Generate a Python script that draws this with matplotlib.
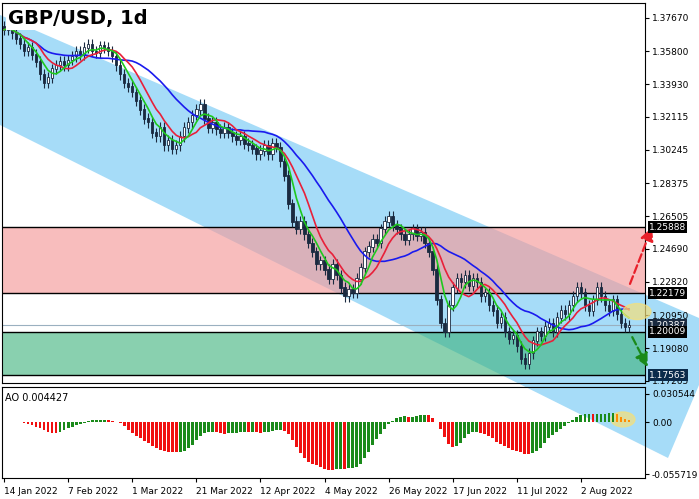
import matplotlib
matplotlib.use("Agg")
import matplotlib.pyplot as plt
from matplotlib.patches import Polygon, Ellipse
import numpy as np
import pandas as pd

closes = [1.370,1.372,1.368,1.365,1.362,1.358,1.360,1.356,1.352,1.345,1.340,1.343,1.348,1.350,1.352,1.350,
          1.353,1.355,1.358,1.356,1.360,1.362,1.358,1.357,1.361,1.360,1.358,1.355,1.350,1.345,1.340,1.338,
          1.335,1.330,1.325,1.320,1.318,1.312,1.310,1.315,1.305,1.308,1.303,1.305,1.310,1.315,1.318,1.322,
          1.325,1.328,1.320,1.315,1.318,1.314,1.312,1.315,1.312,1.310,1.308,1.310,1.306,1.305,1.303,1.300,
          1.302,1.305,1.300,1.306,1.304,1.296,1.288,1.272,1.262,1.258,1.262,1.255,1.250,1.245,1.238,1.240,
          1.235,1.230,1.238,1.232,1.225,1.220,1.224,1.222,1.230,1.236,1.245,1.248,1.252,1.250,1.258,1.262,
          1.265,1.260,1.258,1.255,1.252,1.255,1.258,1.254,1.256,1.250,1.245,1.235,1.218,1.205,1.200,1.215,
          1.225,1.230,1.228,1.232,1.226,1.230,1.228,1.220,1.222,1.215,1.212,1.205,1.208,1.200,1.196,1.198,
          1.192,1.185,1.182,1.188,1.195,1.200,1.198,1.203,1.205,1.200,1.208,1.212,1.210,1.215,1.220,1.225,
          1.222,1.215,1.212,1.218,1.225,1.220,1.215,1.212,1.218,1.210,1.205,1.203,1.2039]
tick_labels = ["14 Jan 2022","7 Feb 2022","1 Mar 2022","21 Mar 2022","12 Apr 2022","4 May 2022",
               "26 May 2022","17 Jun 2022","11 Jul 2022","2 Aug 2022"]
price_ticks = [1.37670,1.35800,1.33930,1.32115,1.30245,1.28375,1.26505,1.24690,1.22820,1.20950,1.19080,1.17265]
levels = [1.25888, 1.22179, 1.20009, 1.17563]
current = 1.20387
ao_value = 0.004427

W, H = 699, 499
fig = plt.figure(figsize=(W/100, H/100), dpi=100)
fig.patch.set_facecolor("white")

def fx(px): return px / W
def fy(py): return 1 - py / H

ax = fig.add_axes([fx(2), fy(383), fx(643), (383-3)/H])
ax2 = fig.add_axes([fx(2), fy(478), fx(643), (478-387)/H])
for a in (ax, ax2):
    a.set_facecolor("none")

pts = [(0,15),(699,318),(699,385),(668,458),(0,125)]
fig.patches.append(Polygon([(fx(x), fy(y)) for x, y in pts], closed=True, transform=fig.transFigure,
                           facecolor="#a6dcf8", edgecolor="none", zorder=-5))

c = np.array(closes)
n = len(c)
o = np.concatenate([[c[0]+0.002], c[:-1]])
hi = np.maximum(o, c) + 0.003
lo = np.minimum(o, c) - 0.003
idx = np.arange(n)

ax.axhspan(levels[1], levels[0], color="#f59a9a", alpha=0.65, zorder=1, lw=0)
ax.axhspan(levels[3], levels[2], color="#3bb27a", alpha=0.6, zorder=1, lw=0)
for lv in levels:
    ax.axhline(lv, color="black", lw=1, zorder=2)
ax.axhline(current, color="#9ab0c0", lw=0.8, zorder=2)

for i in range(n):
    ax.vlines(i, lo[i], hi[i], color="#1a2a40", lw=0.8, zorder=3)
    bull = c[i] >= o[i]
    ax.bar(i, abs(c[i]-o[i]) + 0.0003, bottom=min(o[i], c[i]), width=0.6,
           color="white" if bull else "#1a2a40", edgecolor="#1a2a40", lw=0.6, zorder=4)

s = pd.Series(c)
ax.plot(idx, s.rolling(21, min_periods=1).mean(), color="#1a1aee", lw=1.2, zorder=5)
ax.plot(idx, s.rolling(9, min_periods=1).mean(), color="#e8203a", lw=1.2, zorder=5)
ax.plot(idx, s.rolling(5, min_periods=1).mean(), color="#1ec81e", lw=1.2, zorder=5)

ax.annotate("", xy=(162, 1.2604), xytext=(156, 1.2256), annotation_clip=False,
            arrowprops=dict(arrowstyle="-|>,head_width=0.4,head_length=0.8", color="#e8202a", lw=1.6, ls="--"), zorder=6)
ax.annotate("", xy=(161, 1.1789), xytext=(156.5, 1.1985), annotation_clip=False,
            arrowprops=dict(arrowstyle="-|>,head_width=0.4,head_length=0.8", color="#1a8a1a", lw=1.6, ls="--"), zorder=6)
ax.add_patch(Ellipse((158, 1.2115), 7, 0.009, color="#f5e07a", alpha=0.7, zorder=6, clip_on=False))

ax.set_xlim(-0.5, 160)
ax.set_ylim(1.1713, 1.3851)
ax.yaxis.tick_right()
ax.set_yticks(price_ticks)
ax.set_yticklabels([f"{v:.5f}" for v in price_ticks], fontsize=6.5)
ax.set_xticks([])
ax.tick_params(axis="y", length=3, pad=2)
ax.text(0.01, 0.985, "GBP/USD, 1d", transform=ax.transAxes, fontsize=14, fontweight="bold", va="top",
        bbox=dict(facecolor="white", edgecolor="none", pad=2), zorder=10)
for lv, fc in [(levels[0], "black"), (levels[1], "black"), (current, "#1a2a40"), (levels[2], "black"), (levels[3], "#0a2a4a")]:
    ax.text(1.006, lv, f"{lv:.5f}", transform=ax.get_yaxis_transform(), fontsize=6.5, color="white", va="center",
            bbox=dict(facecolor=fc, edgecolor="none", pad=1.0), clip_on=False, zorder=10)

med = pd.Series((hi + lo) / 2)
ao = (med.rolling(5, min_periods=1).mean() - med.rolling(34, min_periods=1).mean()).values
cols = ["#1a8a1a" if i > 0 and ao[i] > ao[i-1] else "#f01010" for i in range(n)]
for i in range(n-4, n):
    cols[i] = "#ff8c00"
ax2.bar(idx, ao, width=0.7, color=cols, zorder=3)
ax2.add_patch(Ellipse((n-2.5, 0.003), 6, 0.016, color="#f5e07a", alpha=0.7, zorder=2))
ax2.set_xlim(-0.5, 160)
ax2.set_ylim(-0.0595, 0.0376)
ax2.yaxis.tick_right()
ax2.set_yticks([0.030544, 0.0, -0.055719])
ax2.set_yticklabels(["0.030544", "0.00", "-0.055719"], fontsize=6.5)
ax2.tick_params(axis="y", length=3, pad=2)
ax2.set_xticks(np.arange(0, 160, 16))
ax2.set_xticklabels(tick_labels, fontsize=6.5, ha="left")
ax2.tick_params(axis="x", length=3)
ax2.text(0.005, 0.93, f"AO {ao_value}", transform=ax2.transAxes, fontsize=7, va="top", zorder=10)

fig.savefig("out.png", dpi=100)
